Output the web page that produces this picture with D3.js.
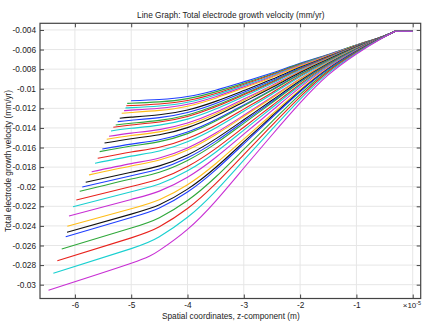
<!DOCTYPE html>
<html>
<head>
<meta charset="utf-8">
<script src="https://cdn.jsdelivr.net/npm/d3@7"></script>
<style>
  html, body { margin: 0; padding: 0; background: #fff; }
  svg { display: block; }
  text { font-family: "Liberation Sans", Arial, sans-serif; fill: #222; }
</style>
</head>
<body>
<svg id="chart" width="433" height="322"></svg>
<script>
// ---------- data (x in units of 1e-5 m, y in mm/yr) ----------
const xGrid = [-5, -4.5, -4, -3.5, -3, -2.5, -2, -1.5, -1, -0.6, -0.31, 0];

const startX = [-5.003,-5.034,-5.069,-5.101,-5.128,-5.169,-5.204,-5.240,-5.275,-5.318,
  -5.359,-5.394,-5.435,-5.474,-5.513,-5.560,-5.595,-5.643,-5.702,-5.750,
  -5.808,-5.869,-5.915,-5.975,-6.034,-6.105,-6.135,-6.140,-6.163,-6.234,
  -6.312,-6.383,-6.469];

const startY = [-0.01122,-0.01148,-0.01173,-0.01196,-0.01224,-0.01250,-0.01301,-0.01336,-0.01370,-0.01393,
  -0.01431,-0.01485,-0.01516,-0.01554,-0.01615,-0.01642,-0.01710,-0.01761,-0.01847,-0.01880,
  -0.01955,-0.02003,-0.02047,-0.02136,-0.02204,-0.02299,-0.02404,-0.02465,-0.02510,-0.02636,
  -0.02755,-0.02884,-0.03057];

const curveValues = [
  [-0.01122,-0.01110,-0.01080,-0.01015,-0.00930,-0.00840,-0.00740,-0.00650,-0.00553,-0.00480,-0.00413,-0.00413],
  [-0.01148,-0.01134,-0.01101,-0.01032,-0.00944,-0.00850,-0.00746,-0.00653,-0.00554,-0.00480,-0.00413,-0.00413],
  [-0.01171,-0.01155,-0.01120,-0.01048,-0.00956,-0.00858,-0.00752,-0.00656,-0.00556,-0.00481,-0.00413,-0.00413],
  [-0.01193,-0.01176,-0.01138,-0.01063,-0.00967,-0.00867,-0.00757,-0.00659,-0.00557,-0.00481,-0.00413,-0.00413],
  [-0.01218,-0.01199,-0.01159,-0.01081,-0.00981,-0.00877,-0.00763,-0.00662,-0.00558,-0.00481,-0.00413,-0.00413],
  [-0.01242,-0.01221,-0.01178,-0.01096,-0.00993,-0.00886,-0.00769,-0.00665,-0.00560,-0.00482,-0.00413,-0.00413],
  [-0.01290,-0.01266,-0.01217,-0.01129,-0.01019,-0.00904,-0.00781,-0.00671,-0.00562,-0.00482,-0.00413,-0.00413],
  [-0.01321,-0.01295,-0.01243,-0.01151,-0.01036,-0.00916,-0.00789,-0.00675,-0.00564,-0.00483,-0.00413,-0.00413],
  [-0.01352,-0.01323,-0.01268,-0.01172,-0.01052,-0.00928,-0.00796,-0.00679,-0.00566,-0.00483,-0.00413,-0.00413],
  [-0.01370,-0.01340,-0.01283,-0.01184,-0.01062,-0.00935,-0.00801,-0.00681,-0.00567,-0.00483,-0.00413,-0.00413],
  [-0.01404,-0.01371,-0.01310,-0.01207,-0.01079,-0.00947,-0.00809,-0.00685,-0.00569,-0.00484,-0.00413,-0.00413],
  [-0.01453,-0.01417,-0.01350,-0.01241,-0.01105,-0.00966,-0.00821,-0.00692,-0.00571,-0.00484,-0.00413,-0.00413],
  [-0.01478,-0.01440,-0.01370,-0.01257,-0.01118,-0.00975,-0.00827,-0.00695,-0.00573,-0.00485,-0.00413,-0.00413],
  [-0.01510,-0.01470,-0.01397,-0.01279,-0.01135,-0.00988,-0.00835,-0.00699,-0.00575,-0.00485,-0.00413,-0.00413],
  [-0.01565,-0.01521,-0.01442,-0.01317,-0.01165,-0.01009,-0.00848,-0.00706,-0.00578,-0.00486,-0.00413,-0.00413],
  [-0.01585,-0.01540,-0.01458,-0.01330,-0.01175,-0.01016,-0.00853,-0.00708,-0.00579,-0.00486,-0.00413,-0.00413],
  [-0.01646,-0.01597,-0.01508,-0.01372,-0.01208,-0.01040,-0.00868,-0.00716,-0.00582,-0.00487,-0.00413,-0.00413],
  [-0.01688,-0.01635,-0.01542,-0.01401,-0.01230,-0.01056,-0.00878,-0.00721,-0.00584,-0.00488,-0.00413,-0.00413],
  [-0.01764,-0.01706,-0.01604,-0.01452,-0.01270,-0.01084,-0.00897,-0.00731,-0.00589,-0.00489,-0.00413,-0.00413],
  [-0.01789,-0.01728,-0.01624,-0.01469,-0.01283,-0.01094,-0.00903,-0.00734,-0.00590,-0.00489,-0.00413,-0.00413],
  [-0.01852,-0.01787,-0.01676,-0.01512,-0.01317,-0.01118,-0.00918,-0.00742,-0.00594,-0.00490,-0.00413,-0.00413],
  [-0.01888,-0.01820,-0.01705,-0.01537,-0.01335,-0.01132,-0.00927,-0.00746,-0.00595,-0.00490,-0.00413,-0.00413],
  [-0.01921,-0.01852,-0.01732,-0.01560,-0.01353,-0.01144,-0.00935,-0.00751,-0.00597,-0.00491,-0.00413,-0.00413],
  [-0.01997,-0.01922,-0.01794,-0.01611,-0.01393,-0.01173,-0.00954,-0.00760,-0.00602,-0.00492,-0.00413,-0.00413],
  [-0.02051,-0.01972,-0.01838,-0.01648,-0.01422,-0.01194,-0.00967,-0.00767,-0.00605,-0.00492,-0.00413,-0.00413],
  [-0.02130,-0.02045,-0.01903,-0.01702,-0.01464,-0.01224,-0.00986,-0.00777,-0.00609,-0.00493,-0.00413,-0.00413],
  [-0.02225,-0.02133,-0.01980,-0.01766,-0.01514,-0.01260,-0.01009,-0.00789,-0.00614,-0.00495,-0.00413,-0.00413],
  [-0.02280,-0.02185,-0.02025,-0.01804,-0.01543,-0.01281,-0.01023,-0.00796,-0.00617,-0.00495,-0.00413,-0.00413],
  [-0.02315,-0.02217,-0.02054,-0.01828,-0.01562,-0.01294,-0.01031,-0.00800,-0.00619,-0.00496,-0.00413,-0.00413],
  [-0.02422,-0.02316,-0.02141,-0.01901,-0.01619,-0.01335,-0.01057,-0.00814,-0.00625,-0.00497,-0.00413,-0.00413],
  [-0.02522,-0.02409,-0.02223,-0.01969,-0.01672,-0.01373,-0.01082,-0.00826,-0.00631,-0.00499,-0.00413,-0.00413],
  [-0.02632,-0.02511,-0.02312,-0.02044,-0.01729,-0.01415,-0.01108,-0.00840,-0.00637,-0.00500,-0.00413,-0.00413],
  [-0.02782,-0.02650,-0.02435,-0.02146,-0.01809,-0.01472,-0.01145,-0.00859,-0.00645,-0.00502,-0.00413,-0.00413]
];

const seriesColors = ["#1f3fff", "#2fa83a", "#e8221c", "#19d0d0", "#c82ed4", "#ffbd17", "#111111"];

const xTicks = [-6, -5, -4, -3, -2, -1, 0];
const xTickLabels = ["-6", "-5", "-4", "-3", "-2", "-1", ""];
const yTicks = [-0.004,-0.006,-0.008,-0.010,-0.012,-0.014,-0.016,-0.018,-0.020,-0.022,-0.024,-0.026,-0.028,-0.030];
const yTickLabels = ["-0.004","-0.006","-0.008","-0.01","-0.012","-0.014","-0.016","-0.018","-0.02","-0.022","-0.024","-0.026","-0.028","-0.03"];

const titleText = "Line Graph: Total electrode growth velocity (mm/yr)";
const xLabelText = "Spatial coordinates, z-component (m)";
const yLabelText = "Total electrode growth velocity (mm/yr)";

// ---------- layout ----------
const W = 433, H = 322;
const m = { left: 40, right: 12.3, top: 23.3, bottom: 23.5 };
const iw = W - m.left - m.right, ih = H - m.top - m.bottom;

const svg = d3.select("#chart");
const g = svg.append("g").attr("transform", `translate(${m.left},${m.top})`);

const x = d3.scaleLinear().domain([-6.62, 0.142]).range([0, iw]);
const y = d3.scaleLinear().domain([-0.03141, -0.00332]).range([ih, 0]);

// grid
g.append("g").selectAll("line").data(xTicks).join("line")
  .attr("x1", d => x(d)).attr("x2", d => x(d)).attr("y1", 0).attr("y2", ih)
  .attr("stroke", "#e6e6e6").attr("stroke-width", 1);
g.append("g").selectAll("line").data(yTicks).join("line")
  .attr("y1", d => y(d)).attr("y2", d => y(d)).attr("x1", 0).attr("x2", iw)
  .attr("stroke", "#e6e6e6").attr("stroke-width", 1);

// curves: smooth spline through the read points, straight final plateau
const smooth = d3.line().x(d => x(d[0])).y(d => y(d[1])).curve(d3.curveNatural);
const curves = curveValues.map((vals, i) => {
  const pts = [[startX[i], startY[i]]];
  xGrid.forEach((xv, j) => { if (xv > startX[i] + 0.02) pts.push([xv, vals[j]]); });
  return pts;
});
function pathFor(pts) {
  const body = pts.slice(0, -1);
  const last = pts[pts.length - 1];
  return smooth(body) + `L${x(last[0])},${y(last[1])}`;
}
g.append("g").selectAll("path").data(curves).join("path")
  .attr("d", pathFor)
  .attr("fill", "none")
  .attr("stroke", (d, i) => seriesColors[i % seriesColors.length])
  .attr("stroke-width", 1.1);

// axes (inward ticks)
function styleAxis(sel) {
  sel.select(".domain").remove();
  sel.selectAll(".tick line").attr("stroke", "#444");
  sel.selectAll(".tick text").attr("fill", "#222")
    .style("font-family", '"Liberation Sans", Arial, sans-serif').style("font-size", "8.3px");
}
g.append("g").attr("transform", `translate(0,${ih})`)
  .call(d3.axisBottom(x).tickValues(xTicks).tickSize(-4).tickPadding(4)
    .tickFormat((d, i) => xTickLabels[i]))
  .call(styleAxis);
g.append("g")
  .call(d3.axisTop(x).tickValues(xTicks).tickSize(-4).tickFormat(""))
  .call(styleAxis);
g.append("g")
  .call(d3.axisLeft(y).tickValues(yTicks).tickSize(-4).tickPadding(4)
    .tickFormat((d, i) => yTickLabels[i]))
  .call(styleAxis);
g.append("g").attr("transform", `translate(${iw},0)`)
  .call(d3.axisRight(y).tickValues(yTicks).tickSize(-4).tickFormat(""))
  .call(styleAxis);

// frame
g.append("rect").attr("x", 0).attr("y", 0).attr("width", iw).attr("height", ih)
  .attr("fill", "none").attr("stroke", "#444").attr("stroke-width", 1.2);

// texts
svg.append("text").attr("x", m.left + iw / 2 + 0.5).attr("y", 17.5)
  .attr("text-anchor", "middle").style("font-size", "8.3px").text(titleText);
svg.append("text").attr("x", m.left + iw / 2 + 0.5).attr("y", 318.5)
  .attr("text-anchor", "middle").style("font-size", "8.3px").text(xLabelText);
svg.append("text")
  .attr("transform", `translate(10.5,${m.top + ih / 2}) rotate(-90)`)
  .attr("text-anchor", "middle").style("font-size", "8.3px").text(yLabelText);
const mult = svg.append("text").attr("x", x(0) + m.left - 10).attr("y", 308)
  .style("font-size", "8px");
mult.append("tspan").text("×10");
mult.append("tspan").attr("dy", -3.5).style("font-size", "5.5px").text("-5");
</script>
</body>
</html>
